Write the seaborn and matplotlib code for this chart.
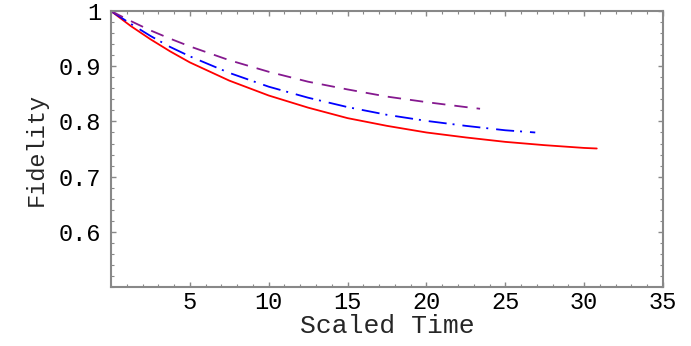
import matplotlib
matplotlib.use("Agg")
import matplotlib.pyplot as plt
import seaborn as sns
from matplotlib.ticker import MultipleLocator, FixedLocator

# Data
t_red = [0, 1.25, 2.5, 3.75, 5, 7.5, 10, 12.5, 15, 17.5, 20, 22.5, 25, 27.5, 30, 30.8]
f_red = [1.000, 0.973, 0.949, 0.927, 0.907, 0.874, 0.847, 0.825, 0.806, 0.792, 0.780,
         0.771, 0.763, 0.757, 0.752, 0.751]

t_blue = [0, 1.25, 2.5, 3.75, 5, 7.5, 10, 12.5, 15, 17.5, 20, 22.5, 25, 26.9]
f_blue = [1.000, 0.977, 0.955, 0.935, 0.918, 0.888, 0.863, 0.843, 0.826, 0.812, 0.801,
          0.792, 0.784, 0.780]

t_purple = [0, 1.25, 2.5, 3.75, 5, 7.5, 10, 12.5, 15, 17.5, 20, 22.5, 23.4]
f_purple = [1.000, 0.982, 0.965, 0.950, 0.936, 0.911, 0.890, 0.872, 0.858, 0.845, 0.835,
            0.826, 0.823]

x_ticks = [5, 10, 15, 20, 25, 30, 35]
y_ticks = [0.6, 0.7, 0.8, 0.9, 1.0]
y_tick_labels = ["0.6", "0.7", "0.8", "0.9", "1"]

sns.set_style("white")
plt.rcParams['font.family'] = ['Liberation Mono', 'DejaVu Sans Mono']

fig = plt.figure(figsize=(6.91, 3.46), dpi=100)
ax = fig.add_axes([0.1606, 0.1705, 0.9595 - 0.1606, 0.968 - 0.1705])

sns.lineplot(x=t_red, y=f_red, ax=ax, color="#ff0000", lw=1.3, sort=False)
sns.lineplot(x=t_blue, y=f_blue, ax=ax, color="#0000ff", lw=1.3, sort=False)
sns.lineplot(x=t_purple, y=f_purple, ax=ax, color="#85198f", lw=1.3, sort=False)

lines = ax.get_lines()
lines[1].set_dashes([10.0, 3.3, 1.1, 4.4])
lines[2].set_dashes([7.4, 5.0])

ax.set_xlim(0, 35)
ax.set_ylim(0.5, 1.0)
ax.xaxis.set_major_locator(FixedLocator(x_ticks))
ax.xaxis.set_minor_locator(MultipleLocator(1))
ax.yaxis.set_major_locator(FixedLocator(y_ticks))
ax.set_yticklabels(y_tick_labels)
ax.yaxis.set_minor_locator(MultipleLocator(0.02))

for s in ax.spines.values():
    s.set_color("#888888")
    s.set_linewidth(1.5)
    s.set_visible(True)

ax.tick_params(which='both', direction='in', top=True, right=True, left=True, bottom=True,
               color="#888888", labelsize=17, labelcolor='black')
ax.tick_params(which='major', length=3.5, width=1.0)
ax.tick_params(axis='y', which='major', pad=7)
ax.tick_params(axis='x', which='major', pad=3)
ax.tick_params(which='minor', length=2, width=0.8)

ax.set_xlabel("Scaled Time", fontsize=19, labelpad=0)
ax.set_ylabel("Fidelity", fontsize=17, labelpad=8)

fig.savefig("out.png", dpi=100)
